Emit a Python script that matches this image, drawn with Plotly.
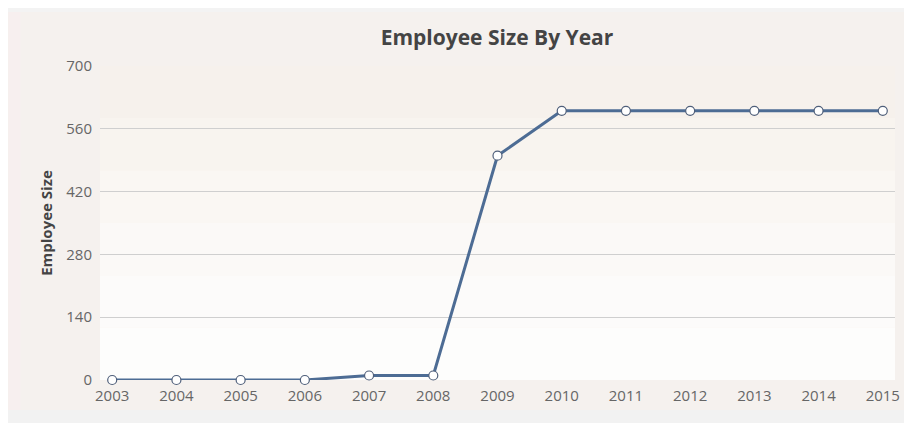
import plotly.graph_objects as go

years = [2003, 2004, 2005, 2006, 2007, 2008, 2009, 2010, 2011, 2012, 2013, 2014, 2015]
employees = [0, 0, 0, 0, 10, 10, 500, 600, 600, 600, 600, 600, 600]
y_ticks = [0, 140, 280, 420, 560, 700]

W, H = 904, 415
L, R, T, B = 92, 12, 58, 43
pw, ph = W - L - R, H - T - B


def px(x):
    return (x - L) / pw


def py(y):
    return (H - B - y) / ph


fig = go.Figure()
fig.add_trace(go.Scatter(
    x=years, y=employees, mode="lines+markers",
    line=dict(color="#4d6c94", width=3),
    marker=dict(symbol="circle", size=9, color="white", line=dict(color="#4f5f7a", width=1.2)),
    cliponaxis=False, showlegend=False,
))

shapes = [
    # top band
    dict(type="rect", xref="paper", yref="paper", x0=px(-10), x1=px(W + 10), y0=py(4), y1=py(-2),
         fillcolor="#f3f3f3", line=dict(width=0), layer="below"),
    # bottom band
    dict(type="rect", xref="paper", yref="paper", x0=px(-10), x1=px(W + 10), y0=py(H + 2), y1=py(402),
         fillcolor="#f2f2f2", line=dict(width=0), layer="below"),
    # pink left strip
    dict(type="rect", xref="paper", yref="paper", x0=px(0), x1=px(12), y0=py(402), y1=py(4),
         fillcolor="#f7efef", line=dict(width=0), layer="below"),
]
bands = ["#f6f1ec", "#f8f4ef", "#faf7f3", "#fbf9f7", "#fcfbfa", "#fdfdfc"]
n = len(bands)
for i, c in enumerate(bands):
    shapes.append(dict(type="rect", xref="x domain", yref="y domain", x0=0, x1=1,
                       y0=1 - (i + 1) / n, y1=1 - i / n, fillcolor=c, line=dict(width=0), layer="below"))

fig.update_layout(
    width=W, height=H,
    margin=dict(l=L, r=R, t=T, b=B),
    paper_bgcolor="#f5f1ee",
    plot_bgcolor="rgba(0,0,0,0)",
    shapes=shapes,
    font=dict(family="Open Sans, Segoe UI, sans-serif", color="#666666", size=15),
    title=dict(text="<b>Employee Size By Year</b>", x=489 / W, xanchor="center",
               y=1 - 30 / H, yanchor="middle",
               font=dict(size=21, color="#444444")),
    xaxis=dict(range=[2002.81, 2015.19], tickmode="array", tickvals=years,
               ticktext=[str(y) for y in years], showgrid=False, zeroline=False,
               showline=False, ticks="", ticklabelstandoff=5,
               tickfont=dict(size=15, color="#666666")),
    yaxis=dict(range=[0, 700], tickmode="array", tickvals=y_ticks,
               ticktext=[str(v) for v in y_ticks], showgrid=True, gridcolor="#cfcfcf",
               gridwidth=1, zeroline=False, showline=False, ticks="", ticklabelstandoff=7,
               tickfont=dict(size=15, color="#666666"),
               title=dict(text="<b>Employee Size</b>", font=dict(size=15, color="#444444"), standoff=10)),
)

fig.write_html("out.html")
